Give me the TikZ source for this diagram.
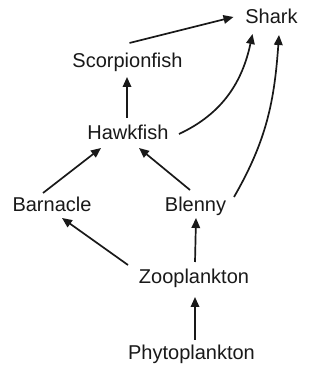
\documentclass[tikz,border=0pt]{standalone}
\usepackage{fontspec}
\setmainfont{Liberation Sans}
\usetikzlibrary{arrows.meta}
\begin{document}
\begin{tikzpicture}[x=1pt,y=1pt,
  lbl/.style={font=\fontsize{20}{24}\selectfont, inner sep=0pt, anchor=base, text=black!90},
  arr/.style={line width=1.7pt, draw=black!90, -{Triangle[length=10pt,width=8.5pt]}}]
\useasboundingbox[fill=white] (0,0) rectangle (318,374);
\node[lbl] (shark) at (271.5,350.7) {Shark};
\node[lbl] (scorp) at (127.5,306) {Scorpionfish};
\node[lbl] (hawk) at (128,234) {Hawkfish};
\node[lbl] (barn) at (52,162) {Barnacle};
\node[lbl] (blenny) at (195.5,162) {Blenny};
\node[lbl] (zoo) at (194,90) {Zooplankton};
\node[lbl] (phyto) at (191.5,14) {Phytoplankton};
\draw[arr] ([shift={(2,25)}]scorp.base) -- ([shift={(-38,6.3)}]shark.base);
\draw[arr] ([shift={(-1,22)}]hawk.base) -- ([shift={(-0.5,-9)}]scorp.base);
\draw[arr] ([shift={(51,6)}]hawk.base) to[out=25,in=258] ([shift={(-19,-10.7)}]shark.base);
\draw[arr] ([shift={(38.5,15)}]blenny.base) to[out=60,in=266] ([shift={(7.5,-11.7)}]shark.base);
\draw[arr] ([shift={(-9,19)}]barn.base) -- ([shift={(-27,-8)}]hawk.base);
\draw[arr] ([shift={(-5.5,22)}]blenny.base) -- ([shift={(11,-8)}]hawk.base);
\draw[arr] ([shift={(-66,19)}]zoo.base) -- ([shift={(10,-6)}]barn.base);
\draw[arr] ([shift={(1,22)}]zoo.base) -- ([shift={(0.5,-6)}]blenny.base);
\draw[arr] ([shift={(3.5,20)}]phyto.base) -- ([shift={(1,-13)}]zoo.base);
\end{tikzpicture}
\end{document}
